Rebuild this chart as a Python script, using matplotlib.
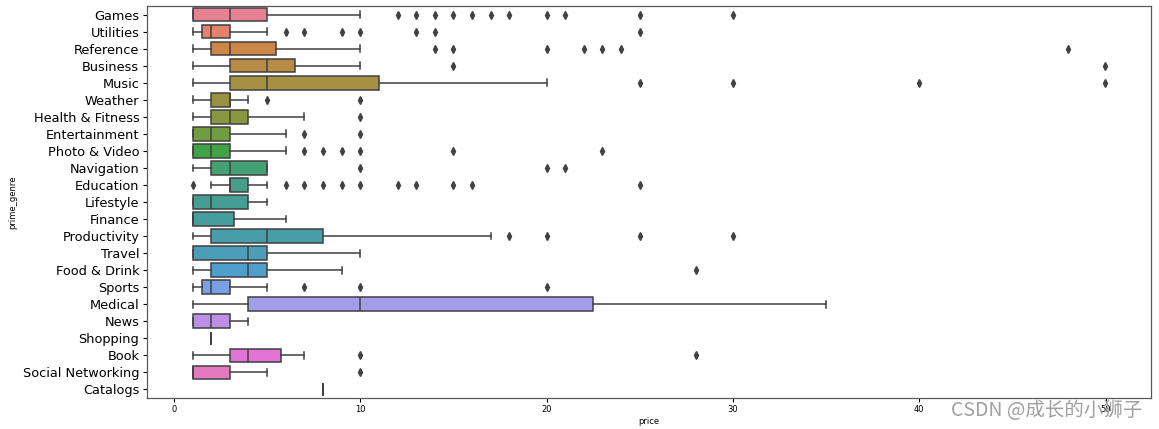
import colorsys
import matplotlib
matplotlib.use("Agg")
import matplotlib.pyplot as plt
import seaborn as sns

genres = ["Games", "Utilities", "Reference", "Business", "Music", "Weather",
          "Health & Fitness", "Entertainment", "Photo & Video", "Navigation",
          "Education", "Lifestyle", "Finance", "Productivity", "Travel",
          "Food & Drink", "Sports", "Medical", "News", "Shopping", "Book",
          "Social Networking", "Catalogs"]

whislo = [0.99, 0.99, 0.99, 0.99, 0.99, 0.99, 0.99, 0.99, 0.99, 0.99, 1.99, 0.99,
          0.99, 0.99, 0.99, 0.99, 0.99, 0.99, 0.99, 1.99, 0.99, 0.99, 7.99]
q1 = [0.99, 1.49, 1.99, 2.99, 2.99, 1.99, 1.99, 0.99, 0.99, 1.99, 2.99, 0.99,
      0.99, 1.99, 0.99, 1.99, 1.49, 3.99, 0.99, 1.99, 2.99, 0.99, 7.99]
med = [2.99, 1.99, 2.99, 4.99, 4.99, 2.99, 2.99, 1.99, 1.99, 2.99, 2.99, 1.99,
       0.99, 4.99, 3.99, 3.99, 1.99, 9.99, 1.99, 1.99, 3.99, 0.99, 7.99]
q3 = [4.99, 2.99, 5.49, 6.49, 10.99, 2.99, 3.99, 2.99, 2.99, 4.99, 3.99, 3.99,
      3.19, 7.99, 4.99, 4.99, 2.99, 22.49, 2.99, 1.99, 5.74, 2.99, 7.99]
whishi = [9.99, 4.99, 9.99, 9.99, 19.99, 3.99, 6.99, 5.99, 5.99, 4.99, 4.99, 4.99,
          5.99, 16.99, 9.99, 8.99, 4.99, 34.99, 3.99, 1.99, 6.99, 4.99, 7.99]
outliers = [
    [11.99, 12.99, 13.99, 14.99, 15.99, 16.99, 17.99, 19.99, 20.99, 24.99, 29.99],
    [5.99, 6.99, 8.99, 9.99, 12.99, 13.99, 24.99],
    [13.99, 14.99, 19.99, 21.99, 22.99, 23.99, 47.99],
    [14.99, 49.99],
    [24.99, 29.99, 39.99, 49.99],
    [4.99, 9.99],
    [9.99],
    [6.99, 9.99],
    [6.99, 7.99, 8.99, 9.99, 14.99, 22.99],
    [9.99, 19.99, 20.99],
    [0.99, 5.99, 6.99, 7.99, 8.99, 9.99, 11.99, 12.99, 14.99, 15.99, 24.99],
    [],
    [],
    [17.99, 19.99, 24.99, 29.99],
    [],
    [27.99],
    [6.99, 9.99, 19.99],
    [],
    [],
    [],
    [9.99, 27.99],
    [9.99],
    [],
]

# seaborn-style colours: husl palette, desaturated, grey lines
colors = [sns.desaturate(c, 0.75) for c in sns.color_palette("husl", len(genres))]
lum = min(colorsys.rgb_to_hls(*c)[1] for c in colors) * 0.6
gray = (lum, lum, lum)

stats = []
for i in range(len(genres)):
    stats.append({"label": genres[i], "whislo": whislo[i], "q1": q1[i], "med": med[i],
                  "q3": q3[i], "whishi": whishi[i], "fliers": outliers[i]})

fig = plt.figure(figsize=(11.59, 4.29), dpi=100)
ax = fig.add_axes([0.1268, 0.0723, 0.8663, 0.9137])

lw = 1.1
bp = ax.bxp(stats, positions=range(len(genres)), widths=0.8, orientation="horizontal",
            patch_artist=True, manage_ticks=False,
            boxprops=dict(edgecolor=gray, linewidth=lw),
            medianprops=dict(color=gray, linewidth=lw),
            whiskerprops=dict(color=gray, linewidth=lw),
            capprops=dict(color=gray, linewidth=lw),
            flierprops=dict(marker="d", markerfacecolor=gray, markeredgecolor=gray,
                            markersize=3.6, linestyle="none"))
for patch, c in zip(bp["boxes"], colors):
    patch.set_facecolor(c)

ax.set_yticks(range(len(genres)))
ax.set_yticklabels(genres, fontsize=9.3)
ax.set_ylim(len(genres) - 0.5, -0.5)
ax.set_xticks([0, 10, 20, 30, 40, 50])
ax.tick_params(axis="x", labelsize=6, length=3, pad=2)
ax.tick_params(axis="y", length=3, pad=2.5)
ax.set_xlabel("price", fontsize=6, labelpad=2)
ax.set_ylabel("prime_genre", fontsize=6, labelpad=4)
for s in ax.spines.values():
    s.set_color("0.35")
    s.set_linewidth(0.9)

fig.text(0.986, 0.043, "CSDN @成长的小狮子", ha="right", va="center", fontsize=14,
         color="#a0a0a0", family=["Noto Sans CJK SC", "DejaVu Sans"])

fig.savefig("out.png", dpi=100)
